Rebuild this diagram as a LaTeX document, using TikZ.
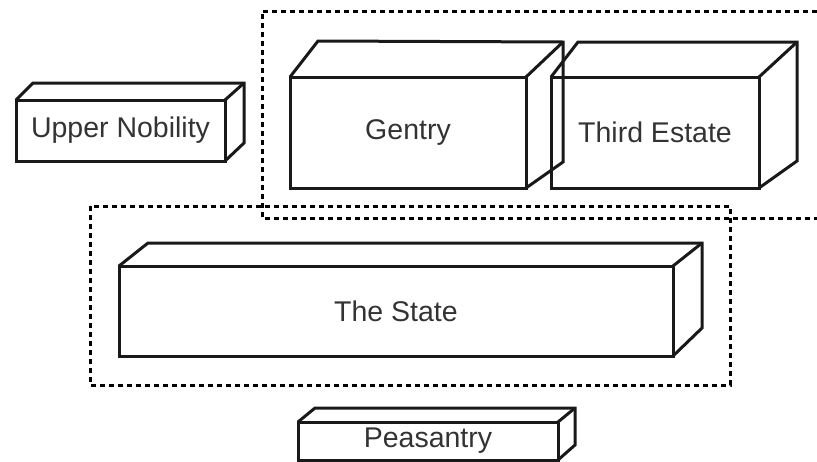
\documentclass[tikz,border=0pt]{standalone}
\usepackage{fontspec}
\setmainfont{Liberation Sans}
\usetikzlibrary{positioning}
\tikzset{
  block/.style = {rectangle, draw=black!90, line width=3pt, inner sep=0pt, outer sep=0pt, text=black!80, font=\fontsize{28.5}{32}\selectfont},
  edge/.style = {draw=black!90, line width=3pt, line join=miter},
  frame/.style = {draw=black, line width=3pt, dash pattern=on 5pt off 4pt}
}
% #1 node, #2 top-left shift, #3 top-right shift, #4 bottom-right shift
\newcommand{\slab}[4]{%
  \draw [edge] (#1.north west) -- ([shift={#2}]#1.north west) -- ([shift={#3}]#1.north east) -- ([shift={#4}]#1.south east) -- (#1.south east);
  \draw [edge] (#1.north east) -- ([shift={#3}]#1.north east);
}

\begin{document}
\begin{tikzpicture}[x=1pt, y=-1pt]
    \useasboundingbox (0,0) rectangle (817,461);

    \node (nobility) [block, minimum width=209pt, minimum height=61pt] at (120.5,130.5) {Upper Nobility};
    \node (gentry) [block, minimum width=236pt, minimum height=111pt] at (408,132.5) {Gentry};
    \node (third) [block, minimum width=208pt, minimum height=111pt, right=25pt of gentry] {Third Estate};
    \node (state) [block, minimum width=554pt, minimum height=90pt] at (396,311) {The State};
    \node (peasantry) [block, minimum width=260pt, minimum height=38pt] at (428,441) {Peasantry};

    \slab{nobility}{(17,-17)}{(19,-17)}{(19,-18)}
    \slab{gentry}{(28,-36)}{(37,-35)}{(37,-26)}
    \slab{third}{(27,-35)}{(38,-35)}{(38,-27)}
    \slab{state}{(29,-23)}{(29,-23)}{(29,-28)}
    \slab{peasantry}{(17,-14)}{(17,-14)}{(17,-15)}

    % groupings
    \draw [frame] (817,11) -- (262,11) -- (262,218) -- (817,218);
    \draw [frame] (90,206) rectangle (730,385);
\end{tikzpicture}
\end{document}
